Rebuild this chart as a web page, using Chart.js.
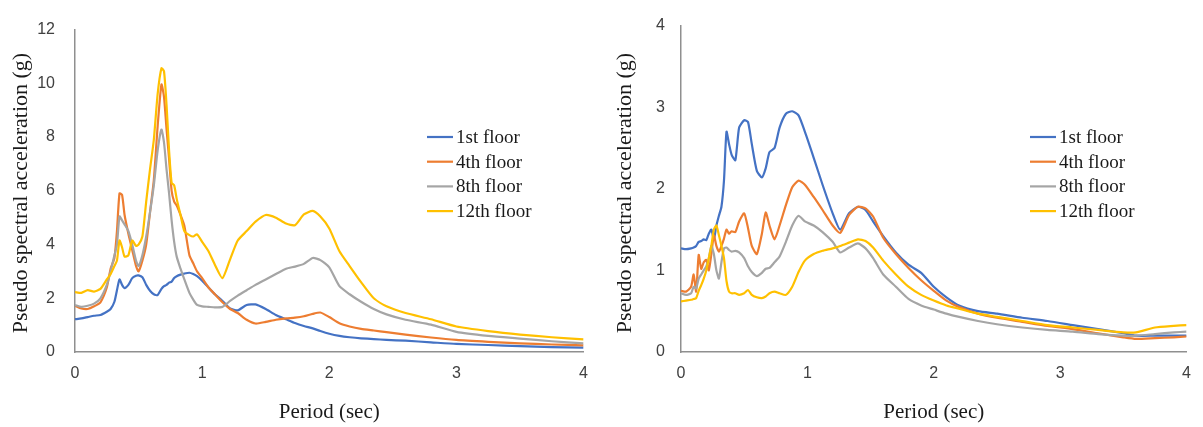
<!DOCTYPE html>
<html>
<head>
<meta charset="utf-8">
<script src="https://cdn.jsdelivr.net/npm/chart.js@4.4.1/dist/chart.umd.min.js"></script>
<style>
  html, body { margin: 0; padding: 0; background: #fff; }
  #wrap { position: relative; width: 1203px; height: 427px; }
  canvas { position: absolute; top: 0; }
</style>
</head>
<body>
<div id="wrap">
  <canvas id="leftChart" width="600" height="427" style="left:0"></canvas>
  <canvas id="rightChart" width="603" height="427" style="left:600px"></canvas>
</div>
<script>
var floorNames = ['1st floor', '4th floor', '8th floor', '12th floor'];
var floorColors = ['#4472c4', '#ed7d31', '#a5a5a5', '#ffc000'];

// left panel: spectra in g, y axis 0..12
var periodLeft = [0, 0.05, 0.1, 0.15, 0.2, 0.25, 0.28, 0.31, 0.33, 0.35, 0.37, 0.39, 0.42, 0.45, 0.48, 0.5,
  0.53, 0.56, 0.59, 0.62, 0.65, 0.68, 0.7, 0.72, 0.74, 0.76, 0.78, 0.8, 0.83, 0.86, 0.9, 0.93, 0.96, 1.0,
  1.05, 1.1, 1.16, 1.22, 1.28, 1.35, 1.42, 1.5, 1.58, 1.66, 1.73, 1.8, 1.87, 1.93, 2.0, 2.08, 2.16, 2.25,
  2.35, 2.45, 2.6, 2.8, 3.0, 3.25, 3.5, 3.75, 4.0];
var firstLeft = [1.22, 1.25, 1.3, 1.35, 1.38, 1.5, 1.6, 1.87, 2.3, 2.7, 2.5, 2.38, 2.5, 2.75, 2.84, 2.85,
  2.78, 2.5, 2.28, 2.15, 2.12, 2.35, 2.45, 2.5, 2.58, 2.62, 2.75, 2.82, 2.88, 2.92, 2.95, 2.9, 2.82, 2.65,
  2.4, 2.15, 1.9, 1.62, 1.55, 1.75, 1.77, 1.6, 1.38, 1.22, 1.08, 0.97, 0.88, 0.78, 0.68, 0.6, 0.55, 0.51,
  0.48, 0.45, 0.42, 0.36, 0.3, 0.26, 0.22, 0.18, 0.16];
var fourthLeft = [1.72, 1.62, 1.6, 1.7, 1.85, 2.4, 3.1, 3.5, 4.5, 5.9, 5.85, 5.1, 4.4, 3.8, 3.2, 3.0,
  3.4, 4.0, 5.2, 6.4, 8.4, 9.96, 9.5, 8.3, 7.2, 6.0, 5.6, 5.45, 5.1, 4.7, 3.6, 3.3, 3.0, 2.75,
  2.4, 2.15, 1.85, 1.6, 1.45, 1.2, 1.06, 1.12, 1.2, 1.25, 1.28, 1.33, 1.42, 1.47, 1.3, 1.07, 0.95, 0.86,
  0.8, 0.74, 0.65, 0.54, 0.45, 0.38, 0.32, 0.28, 0.25];
var eighthLeft = [1.75, 1.68, 1.72, 1.8, 2.0, 2.5, 3.0, 3.6, 4.0, 5.05, 4.9, 4.75, 4.5, 4.0, 3.4, 3.2,
  3.6, 4.3, 5.2, 6.2, 7.5, 8.28, 7.8, 6.8, 5.9, 4.9, 4.1, 3.55, 3.1, 2.7, 2.2, 1.95, 1.75, 1.7,
  1.68, 1.66, 1.68, 1.9, 2.1, 2.3, 2.5, 2.7, 2.9, 3.1, 3.18, 3.28, 3.5, 3.42, 3.15, 2.45, 2.15, 1.87,
  1.6, 1.4, 1.2, 1.02, 0.75, 0.6, 0.5, 0.4, 0.32];
var twelfthLeft = [2.23, 2.2, 2.3, 2.25, 2.35, 2.7, 2.9, 3.2, 3.4, 4.15, 3.9, 3.55, 3.6, 4.15, 3.95, 4.0,
  4.3, 5.6, 6.8, 7.9, 9.6, 10.56, 10.45, 9.2, 7.5, 6.3, 6.2, 5.7, 5.1, 4.5, 4.35, 4.3, 4.38, 4.1,
  3.75, 3.25, 2.75, 3.45, 4.15, 4.5, 4.85, 5.1, 5.0, 4.78, 4.72, 5.12, 5.25, 5.04, 4.6, 3.75, 3.2, 2.6,
  2.0, 1.7, 1.45, 1.22, 0.95, 0.78, 0.65, 0.55, 0.47];

// right panel: spectra in g, y axis 0..4
var periodRight = [0, 0.04, 0.08, 0.1, 0.12, 0.14, 0.16, 0.18, 0.2, 0.22, 0.24, 0.26, 0.28, 0.3, 0.32, 0.34,
  0.36, 0.38, 0.4, 0.43, 0.46, 0.5, 0.53, 0.56, 0.6, 0.64, 0.67, 0.7, 0.74, 0.78, 0.83, 0.88, 0.93, 0.98,
  1.05, 1.12, 1.2, 1.26, 1.33, 1.4, 1.46, 1.52, 1.6, 1.7, 1.8, 1.9, 2.0, 2.1, 2.2, 2.35, 2.5, 2.7, 2.9,
  3.1, 3.3, 3.5, 3.6, 3.75, 3.9, 4.0];
var firstRight = [1.27, 1.26, 1.27, 1.28, 1.3, 1.35, 1.36, 1.38, 1.37, 1.45, 1.5, 1.38, 1.55, 1.67, 1.78, 2.1,
  2.7, 2.55, 2.42, 2.35, 2.75, 2.84, 2.82, 2.55, 2.22, 2.14, 2.25, 2.45, 2.5, 2.75, 2.92, 2.95, 2.9, 2.7,
  2.38, 2.05, 1.7, 1.5, 1.7, 1.78, 1.74, 1.6, 1.42, 1.22, 1.07, 0.97, 0.8, 0.67, 0.57, 0.5, 0.47, 0.42, 0.38,
  0.33, 0.28, 0.23, 0.2, 0.2, 0.2, 0.2];
var fourthRight = [0.75, 0.74, 0.8, 0.95, 0.74, 1.19, 1.02, 1.1, 1.13, 1.0, 1.2, 1.43, 1.3, 1.23, 1.3, 1.39,
  1.5, 1.45, 1.48, 1.47, 1.6, 1.7, 1.52, 1.3, 1.2, 1.45, 1.71, 1.55, 1.38, 1.55, 1.8, 2.02, 2.1, 2.05,
  1.9, 1.74, 1.55, 1.46, 1.68, 1.78, 1.76, 1.66, 1.4, 1.2, 1.03, 0.88, 0.75, 0.63, 0.55, 0.47, 0.42, 0.37, 0.32,
  0.28, 0.23, 0.18, 0.16, 0.17, 0.18, 0.19];
var eighthRight = [0.72, 0.7, 0.72, 0.8, 0.78, 0.9, 0.95, 1.0, 1.05, 1.15, 1.3, 1.2, 1.0, 0.9, 1.1, 1.27,
  1.28, 1.25, 1.23, 1.24, 1.22, 1.15, 1.05, 0.98, 0.93, 0.97, 1.02, 1.03, 1.1, 1.17, 1.35, 1.55, 1.67, 1.6,
  1.55, 1.47, 1.35, 1.22, 1.28, 1.33, 1.27, 1.15, 0.95, 0.8, 0.65, 0.57, 0.52, 0.47, 0.43, 0.38, 0.34, 0.3, 0.27,
  0.25, 0.22, 0.2, 0.2, 0.22, 0.24, 0.25];
var twelfthRight = [0.62, 0.63, 0.64, 0.65, 0.66, 0.75, 0.82, 0.9, 1.0, 1.15, 1.3, 1.5, 1.55, 1.43, 1.3, 1.15,
  0.87, 0.74, 0.72, 0.72, 0.7, 0.72, 0.76, 0.7, 0.67, 0.66, 0.68, 0.72, 0.74, 0.72, 0.7, 0.8, 0.98, 1.12,
  1.2, 1.24, 1.27, 1.3, 1.34, 1.38, 1.36, 1.28, 1.12, 0.95, 0.8, 0.7, 0.63, 0.57, 0.53, 0.47, 0.43, 0.38, 0.33,
  0.3, 0.27, 0.24, 0.24, 0.3, 0.32, 0.33];

var yTitle = 'Pseudo spectral acceleration (g)';
var serif = '"Liberation Serif", "Times New Roman", serif';
var sans = '"Liberation Sans", Arial, sans-serif';

// legend inside the plot (line sample + label per floor) and the rotated y caption
var floorLegend = {
  id: 'floorLegend',
  afterDraw: function (chart, args, opts) {
    var ctx = chart.ctx;
    ctx.save();
    ctx.font = '19px ' + serif;
    ctx.textBaseline = 'middle';
    ctx.textAlign = 'left';
    chart.data.datasets.forEach(function (ds, i) {
      var y = opts.y + i * opts.rowGap;
      ctx.strokeStyle = ds.borderColor;
      ctx.lineWidth = 2.2;
      ctx.beginPath();
      ctx.moveTo(opts.x, y);
      ctx.lineTo(opts.x + opts.lineLen, y);
      ctx.stroke();
      ctx.fillStyle = '#1a1a1a';
      ctx.fillText(ds.label, opts.x + opts.lineLen + 3, y + 1);
    });

    ctx.translate(opts.captionX, opts.captionY);
    ctx.rotate(-Math.PI / 2);
    ctx.font = '22px ' + serif;
    ctx.textAlign = 'center';
    ctx.fillText(opts.caption, 0, 0);
    ctx.restore();
  }
};

function toPoints(xs, ys) {
  return xs.map(function (x, i) { return { x: x, y: ys[i] }; });
}

function buildChart(canvasId, periods, values, yMax, yStep, lay) {
  var datasets = values.map(function (ys, i) {
    return {
      label: floorNames[i],
      data: toPoints(periods, ys),
      borderColor: floorColors[i],
      backgroundColor: floorColors[i],
      borderWidth: 2.2,
      pointRadius: 0,
      tension: 0.2,
      order: values.length - i
    };
  });
  return new Chart(document.getElementById(canvasId).getContext('2d'), {
    type: 'line',
    data: { datasets: datasets },
    plugins: [floorLegend],
    options: {
      responsive: false,
      animation: false,
      devicePixelRatio: 1,
      layout: { padding: { left: 0, right: lay.padRight, top: 18, bottom: 0 } },
      plugins: {
        legend: { display: false },
        tooltip: { enabled: false },
        floorLegend: { x: lay.legendX, y: 137, rowGap: 24.7, lineLen: 26,
          caption: yTitle, captionX: lay.captionX, captionY: 193 }
      },
      scales: {
        x: {
          type: 'linear',
          min: 0,
          max: 4,
          grid: { display: false, drawTicks: false },
          border: { display: true, color: '#8f8f8f', width: 1.5 },
          ticks: { stepSize: 1, padding: 12, color: '#404040', font: { family: sans, size: 16 } },
          title: { display: true, text: 'Period (sec)', color: '#1a1a1a',
            font: { family: serif, size: 21 }, padding: { top: 0, bottom: 2 } },
          afterFit: function (s) { s.height = 75; }
        },
        y: {
          min: 0,
          max: yMax,
          grid: { display: false, drawTicks: false },
          border: { display: true, color: '#8f8f8f', width: 1.5 },
          ticks: { stepSize: yStep, padding: lay.tickPad, color: '#404040', font: { family: sans, size: 16 } },
          afterFit: function (s) { s.width = lay.axisLeft; }
        }
      }
    }
  });
}

buildChart('leftChart', periodLeft, [firstLeft, fourthLeft, eighthLeft, twelfthLeft], 12, 2,
  { axisLeft: 75, padRight: 9, tickPad: 20, captionX: 21, legendX: 427 });
buildChart('rightChart', periodRight, [firstRight, fourthRight, eighthRight, twelfthRight], 4, 1,
  { axisLeft: 81, padRight: 7, tickPad: 16, captionX: 25, legendX: 430 });
</script>
</body>
</html>
